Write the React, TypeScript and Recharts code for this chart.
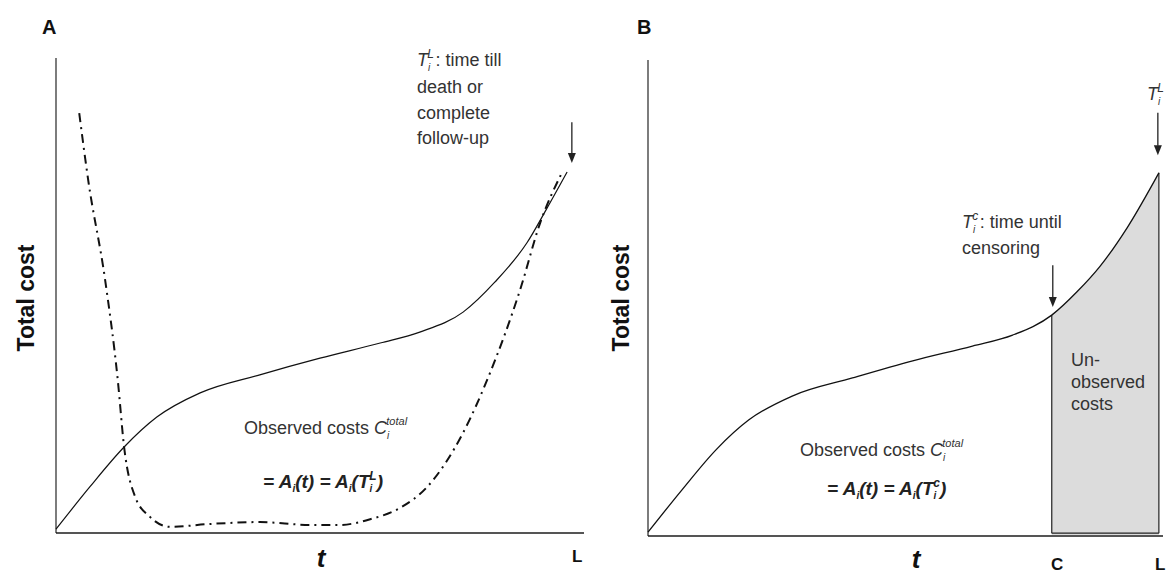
import { ComposedChart, Line, Area, XAxis, YAxis, ReferenceLine, ReferenceDot } from 'recharts';

// Panel A: time axis (share of follow-up L) and cost values
const tSolidA = [0, 6.4, 12.9, 19.1, 27.3, 38.6, 50.0, 61.4, 68.9, 77.1, 83.1, 89.2, 93.0, 96.8];
const costSolidA = [0.8, 9.7, 18.1, 24.4, 29.5, 33.3, 36.8, 40.0, 42.3, 46.5, 52.8, 61.1, 68.4, 76.0];

const tDashA = [4.4, 6.1, 9.3, 11.7, 12.9, 15.0, 17.8, 21.6, 29.2, 38.6, 48.1, 53.8, 59.5, 65.2, 70.3, 77.1, 82.2, 87.9, 91.7, 95.8];
const costDashA = [88.4, 74.3, 53.3, 32.2, 18.1, 7.6, 3.4, 1.3, 1.9, 2.3, 1.7, 1.7, 2.9, 5.3, 9.7, 21.1, 33.7, 51.2, 65.3, 75.8];

// Panel B: same kind of path, censored at C
const tSolidB = [0, 6.6, 13.2, 19.6, 28.0, 39.7, 51.4, 63.0, 70.8, 78.4, 83.3, 87.8, 93.0, 99.2];
const costSolidB = [0.8, 9.7, 18.1, 24.4, 29.4, 33.2, 36.8, 39.9, 42.2, 46.4, 51.3, 56.7, 64.7, 76.3];

const T_C = 78.4;
const T_END_B = 99.2;
const T_L_A = 97.7;
const T_L_B = 99.0;

const FONT = '"Liberation Sans", Arial, Helvetica, sans-serif';
const TEXT = '#333';

const toRows = (t: number[], c: number[]) => t.map((v, i) => ({ t: v, cost: c[i] }));

const solidA = toRows(tSolidA, costSolidA);
const dashA = toRows(tDashA, costDashA);
const solidB = toRows(tSolidB, costSolidB);
const censIdx = tSolidB.indexOf(T_C);
const unobservedB = solidB.slice(censIdx);
const costAtC = costSolidB[censIdx];
const costAtEnd = costSolidB[costSolidB.length - 1];

const ArrowHead = (props: any) => {
  const { cx, cy } = props;
  if (cx == null || cy == null) return null;
  return <path d={`M${cx - 4},${cy - 10} L${cx + 4},${cy - 10} L${cx},${cy} Z`} fill="#222" />;
};

const xAxisLine = { stroke: '#555', strokeWidth: 1.8 };
const yAxisLine = { stroke: '#111', strokeWidth: 1.1 };

function PanelA() {
  return (
    <ComposedChart width={600} height={576} margin={{ top: 58, right: 16, bottom: 42, left: 55 }}>
      <XAxis type="number" dataKey="t" domain={[0, 100]} height={1} axisLine={xAxisLine} tick={false} tickLine={false} />
      <YAxis type="number" domain={[0, 100]} width={1} axisLine={yAxisLine} tick={false} tickLine={false} />
      <Line data={dashA} dataKey="cost" type="monotone" stroke="#111" strokeWidth={2}
        strokeDasharray="9 5 2 5" dot={false} isAnimationActive={false} />
      <Line data={solidA} dataKey="cost" type="monotone" stroke="#111" strokeWidth={1.2}
        dot={false} isAnimationActive={false} />
      <ReferenceLine segment={[{ x: T_L_A, y: 86.5 }, { x: T_L_A, y: 80 }]} stroke="#222" strokeWidth={1.3} ifOverflow="visible" />
      <ReferenceDot x={T_L_A} y={77.9} shape={ArrowHead} ifOverflow="visible" />
    </ComposedChart>
  );
}

function PanelB() {
  return (
    <ComposedChart width={577} height={576} margin={{ top: 60, right: 4, bottom: 39, left: 57 }}>
      <XAxis type="number" dataKey="t" domain={[0, 100]} height={1} axisLine={xAxisLine} tick={false} tickLine={false} />
      <YAxis type="number" domain={[0, 100]} width={1} axisLine={yAxisLine} tick={false} tickLine={false} />
      <Area data={unobservedB} dataKey="cost" type="monotone" fill="#dcdcdc" fillOpacity={1}
        stroke="none" isAnimationActive={false} />
      <ReferenceLine segment={[{ x: T_C, y: 0.6 }, { x: T_C, y: costAtC }]} stroke="#222" strokeWidth={1.2} />
      <ReferenceLine segment={[{ x: T_END_B, y: 0.6 }, { x: T_END_B, y: costAtEnd }]} stroke="#222" strokeWidth={1.2} />
      <ReferenceLine segment={[{ x: T_C, y: 0.6 }, { x: T_END_B, y: 0.6 }]} stroke="#222" strokeWidth={1.2} />
      <Line data={solidB} dataKey="cost" type="monotone" stroke="#111" strokeWidth={1.3}
        dot={false} isAnimationActive={false} />
      <ReferenceLine segment={[{ x: T_L_B, y: 88.9 }, { x: T_L_B, y: 82 }]} stroke="#222" strokeWidth={1.3} ifOverflow="visible" />
      <ReferenceDot x={T_L_B} y={80.0} shape={ArrowHead} ifOverflow="visible" />
      <ReferenceLine segment={[{ x: 78.6, y: 56.9 }, { x: 78.6, y: 50.2 }]} stroke="#222" strokeWidth={1.3} ifOverflow="visible" />
      <ReferenceDot x={78.6} y={48.1} shape={ArrowHead} ifOverflow="visible" />
    </ComposedChart>
  );
}

// T with stacked subscript i and superscript
function TSym({ sup }: { sup: string }) {
  return (
    <>
      <tspan fontStyle="italic">T</tspan>
      <tspan fontSize="10" dy={5} fontStyle="italic">i</tspan>
      <tspan fontSize="12" dx={-3} dy={-13} fontStyle="italic">{sup}</tspan>
      <tspan dy={8}>{'\u200a'}</tspan>
    </>
  );
}

function Overlay() {
  const label = { fontFamily: FONT, fill: TEXT, fontSize: 18 } as const;
  const bold = { fontFamily: FONT, fill: '#111', fontWeight: 'bold' } as const;
  return (
    <svg width={1167} height={576} style={{ position: 'absolute', left: 0, top: 0, pointerEvents: 'none' }}>
      {/* panel A */}
      <text x={42} y={34} fontSize={20} {...bold}>A</text>
      <text transform="translate(34,298) rotate(-90)" textAnchor="middle" fontSize={23} {...bold}>Total cost</text>
      <text x={417} y={66} {...label}><TSym sup="L" />: time till</text>
      <text x={417} y={93} {...label}>death or</text>
      <text x={417} y={119} {...label}>complete</text>
      <text x={417} y={144} {...label}>follow-up</text>
      <text x={244} y={434} {...label}>
        Observed costs <tspan fontStyle="italic">C</tspan>
        <tspan fontSize="10" dy={5} fontStyle="italic">i</tspan>
        <tspan fontSize="11" dx={-3} dy={-14} fontStyle="italic">total</tspan>
      </text>
      <text x={263} y={488} fontSize={19} fontStyle="italic" {...bold} fill="#222">
        = A<tspan fontSize="10" dy={4}>i</tspan><tspan dy={-4}>(t) = A</tspan>
        <tspan fontSize="10" dy={4}>i</tspan><tspan dy={-4}>(T</tspan>
        <tspan fontSize="10" dy={4}>i</tspan><tspan fontSize="12" dx={-3} dy={-12}>L</tspan><tspan dy={8}>)</tspan>
      </text>
      <text x={321} y={567} textAnchor="middle" fontSize={26} fontStyle="italic" {...bold}>t</text>
      <text x={572} y={562} fontSize={17} {...bold}>L</text>

      {/* panel B */}
      <text x={637} y={34} fontSize={20} {...bold}>B</text>
      <text transform="translate(629,298) rotate(-90)" textAnchor="middle" fontSize={23} {...bold}>Total cost</text>
      <text x={1147} y={100} {...label}><TSym sup="L" /></text>
      <text x={962} y={228} {...label}><TSym sup="c" />: time until</text>
      <text x={962} y={254} {...label}>censoring</text>
      <text x={800} y={456} {...label}>
        Observed costs <tspan fontStyle="italic">C</tspan>
        <tspan fontSize="10" dy={5} fontStyle="italic">i</tspan>
        <tspan fontSize="11" dx={-3} dy={-14} fontStyle="italic">total</tspan>
      </text>
      <text x={827} y={495} fontSize={19} fontStyle="italic" {...bold} fill="#222">
        = A<tspan fontSize="10" dy={4}>i</tspan><tspan dy={-4}>(t) = A</tspan>
        <tspan fontSize="10" dy={4}>i</tspan><tspan dy={-4}>(T</tspan>
        <tspan fontSize="10" dy={4}>i</tspan><tspan fontSize="12" dx={-3} dy={-12}>c</tspan><tspan dy={8}>)</tspan>
      </text>
      <text x={1071} y={366} {...label}>Un-</text>
      <text x={1071} y={388} {...label}>observed</text>
      <text x={1071} y={410} {...label}>costs</text>
      <text x={916} y={568} textAnchor="middle" fontSize={26} fontStyle="italic" {...bold}>t</text>
      <text x={1051} y={570} fontSize={17} {...bold}>C</text>
      <text x={1155} y={570} fontSize={17} {...bold}>L</text>
    </svg>
  );
}

export default function App() {
  return (
    <div style={{ position: 'absolute', left: 0, top: 0, width: 1167, height: 576, background: '#fff', fontFamily: FONT }}>
      <div style={{ position: 'absolute', left: 0, top: 0 }}>
        <PanelA />
      </div>
      <div style={{ position: 'absolute', left: 590, top: 0 }}>
        <PanelB />
      </div>
      <Overlay />
    </div>
  );
}
